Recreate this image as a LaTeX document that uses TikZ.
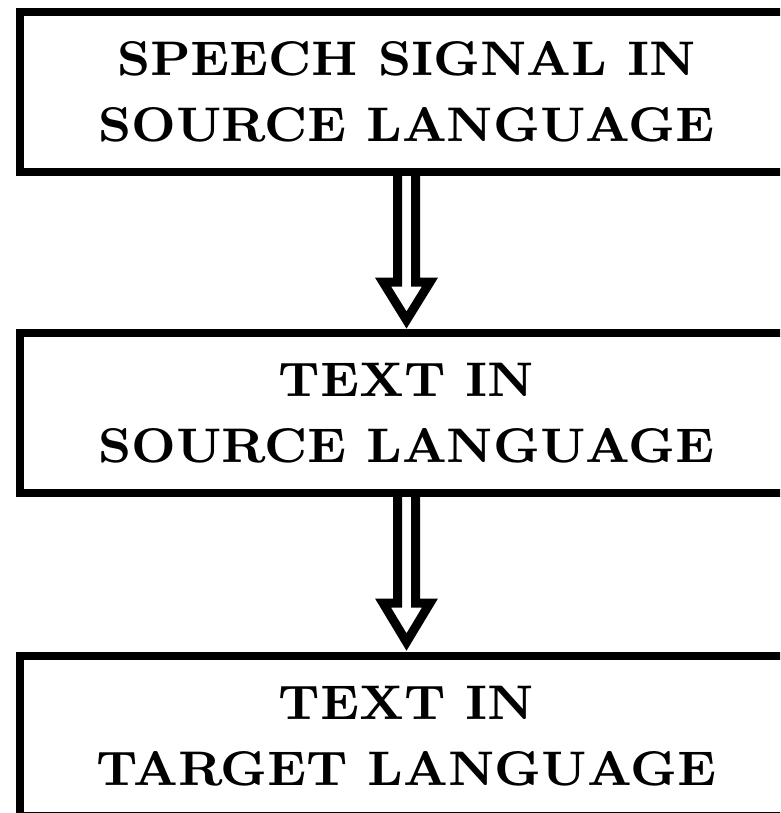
\documentclass[tikz,border=0pt]{standalone}
\usepackage{fontspec}
\usetikzlibrary{backgrounds}
\newfontfamily\boxfont{lmroman8-bold.otf}
\tikzset{
  box/.style={draw, line width=8pt, minimum width=773pt, minimum height=160pt,
    inner sep=0pt, outer sep=0pt, align=center,
    font=\fontsize{48.6}{66}\selectfont\boxfont},
  dblarrow/.style={draw, fill=white, line width=9pt, miter limit=10, line join=miter}
}
\begin{document}
\begin{tikzpicture}[x=1pt, y=-1pt]
\path[use as bounding box] (0,0) rectangle (780,813);
\clip (0,0) rectangle (780,813);
\node[box] (b1) at (406.5,92) {SPEECH SIGNAL IN\\SOURCE LANGUAGE};
\node[box] (b2) at (406.5,413) {TEXT IN\\SOURCE LANGUAGE};
\node[box] (b3) at (406.5,736) {TEXT IN\\TARGET LANGUAGE};
\begin{scope}[on background layer]
\draw[dblarrow] (b1.south) ++(-9,0) -- ++(0,110) -- ++(-14.5,0) -- ++(23.5,38) -- ++(23.5,-38) -- ++(-14.5,0) -- ++(0,-110);
\draw[dblarrow] (b2.south) ++(-9,0) -- ++(0,110) -- ++(-14.5,0) -- ++(23.5,39) -- ++(23.5,-39) -- ++(-14.5,0) -- ++(0,-110);
\end{scope}
\end{tikzpicture}
\end{document}
